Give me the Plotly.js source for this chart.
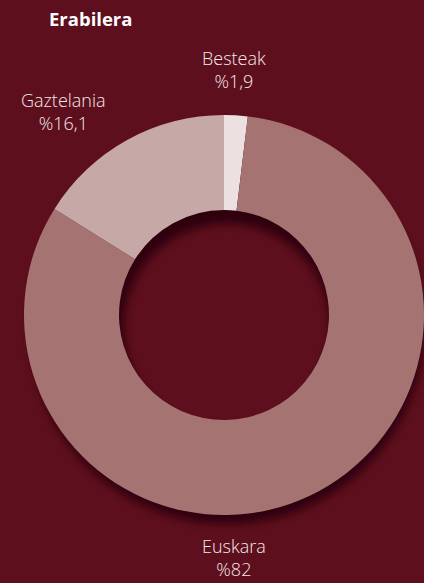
<!DOCTYPE html>
<html>
<head>
<meta charset="utf-8">
<script src="https://cdn.plot.ly/plotly-3.0.1.min.js"></script>
<style>html,body{margin:0;padding:0;background:#5e0f1e;}#chart{width:424px;height:583px;}</style>
</head>
<body>
<div id="chart"></div>
<script>
const categories = ["Besteak", "Euskara", "Gaztelania"];
const values = [1.9, 82, 16.1];
const valueLabels = ["%1,9", "%82", "%16,1"];
const sliceColors = ["#ece0e1", "#a57472", "#c6a8a7"];
const labelX = [234, 234, 63];
const labelY = [70, 557, 111];

const W = 424, H = 583;
const dom = {x: [24 / W, 1], y: [1 - 515 / H, 1 - 115 / H]};
const sdom = {x: [30 / W, 1], y: [1 - 524 / H, 1 - 130 / H]};

const shadow = {
  type: "pie", values: [1], labels: ["shadow"], sort: false,
  hole: 0.525, domain: sdom, textinfo: "none", hoverinfo: "skip",
  marker: {colors: ["#2e0510"], line: {width: 0}}, showlegend: false
};
const donut = {
  type: "pie", values: values, labels: categories, sort: false,
  direction: "clockwise", rotation: 0,
  hole: 0.525, domain: dom, textinfo: "none", hoverinfo: "skip",
  marker: {colors: sliceColors, line: {width: 0}}, showlegend: false
};

const labelFont = {family: "Open Sans", size: 18, weight: 300, color: "#f4e8e8"};
const annotations = categories.map((c, i) => ({
  text: c + "<br>" + valueLabels[i],
  x: labelX[i] / W, y: 1 - labelY[i] / H, xref: "paper", yref: "paper",
  xanchor: "center", yanchor: "middle", showarrow: false, font: labelFont
}));

const layout = {
  width: W, height: H,
  margin: {l: 0, r: 0, t: 0, b: 0},
  paper_bgcolor: "#5e0f1e", plot_bgcolor: "#5e0f1e",
  title: {text: "<b>Erabilera</b>", x: 49 / W, xanchor: "left", y: 1 - 20 / H, yanchor: "middle",
    font: {family: "Open Sans", size: 18.5, color: "#ffffff"}},
  annotations: annotations,
  showlegend: false
};

Plotly.newPlot("chart", [shadow, donut], layout, {staticPlot: true, displayModeBar: false}).then(() => {
  const svg = document.querySelector("#chart .main-svg");
  const ns = "http://www.w3.org/2000/svg";
  let defs = svg.querySelector("defs");
  if (!defs) { defs = document.createElementNS(ns, "defs"); svg.insertBefore(defs, svg.firstChild); }
  const f = document.createElementNS(ns, "filter");
  f.setAttribute("id", "shadowblur");
  f.setAttribute("x", "-20%"); f.setAttribute("y", "-20%");
  f.setAttribute("width", "140%"); f.setAttribute("height", "140%");
  const b = document.createElementNS(ns, "feGaussianBlur");
  b.setAttribute("stdDeviation", "5");
  f.appendChild(b); defs.appendChild(f);
  const tr = document.querySelectorAll("#chart .pielayer .trace");
  if (tr.length) tr[0].setAttribute("filter", "url(#shadowblur)");
});
</script>
</body>
</html>
